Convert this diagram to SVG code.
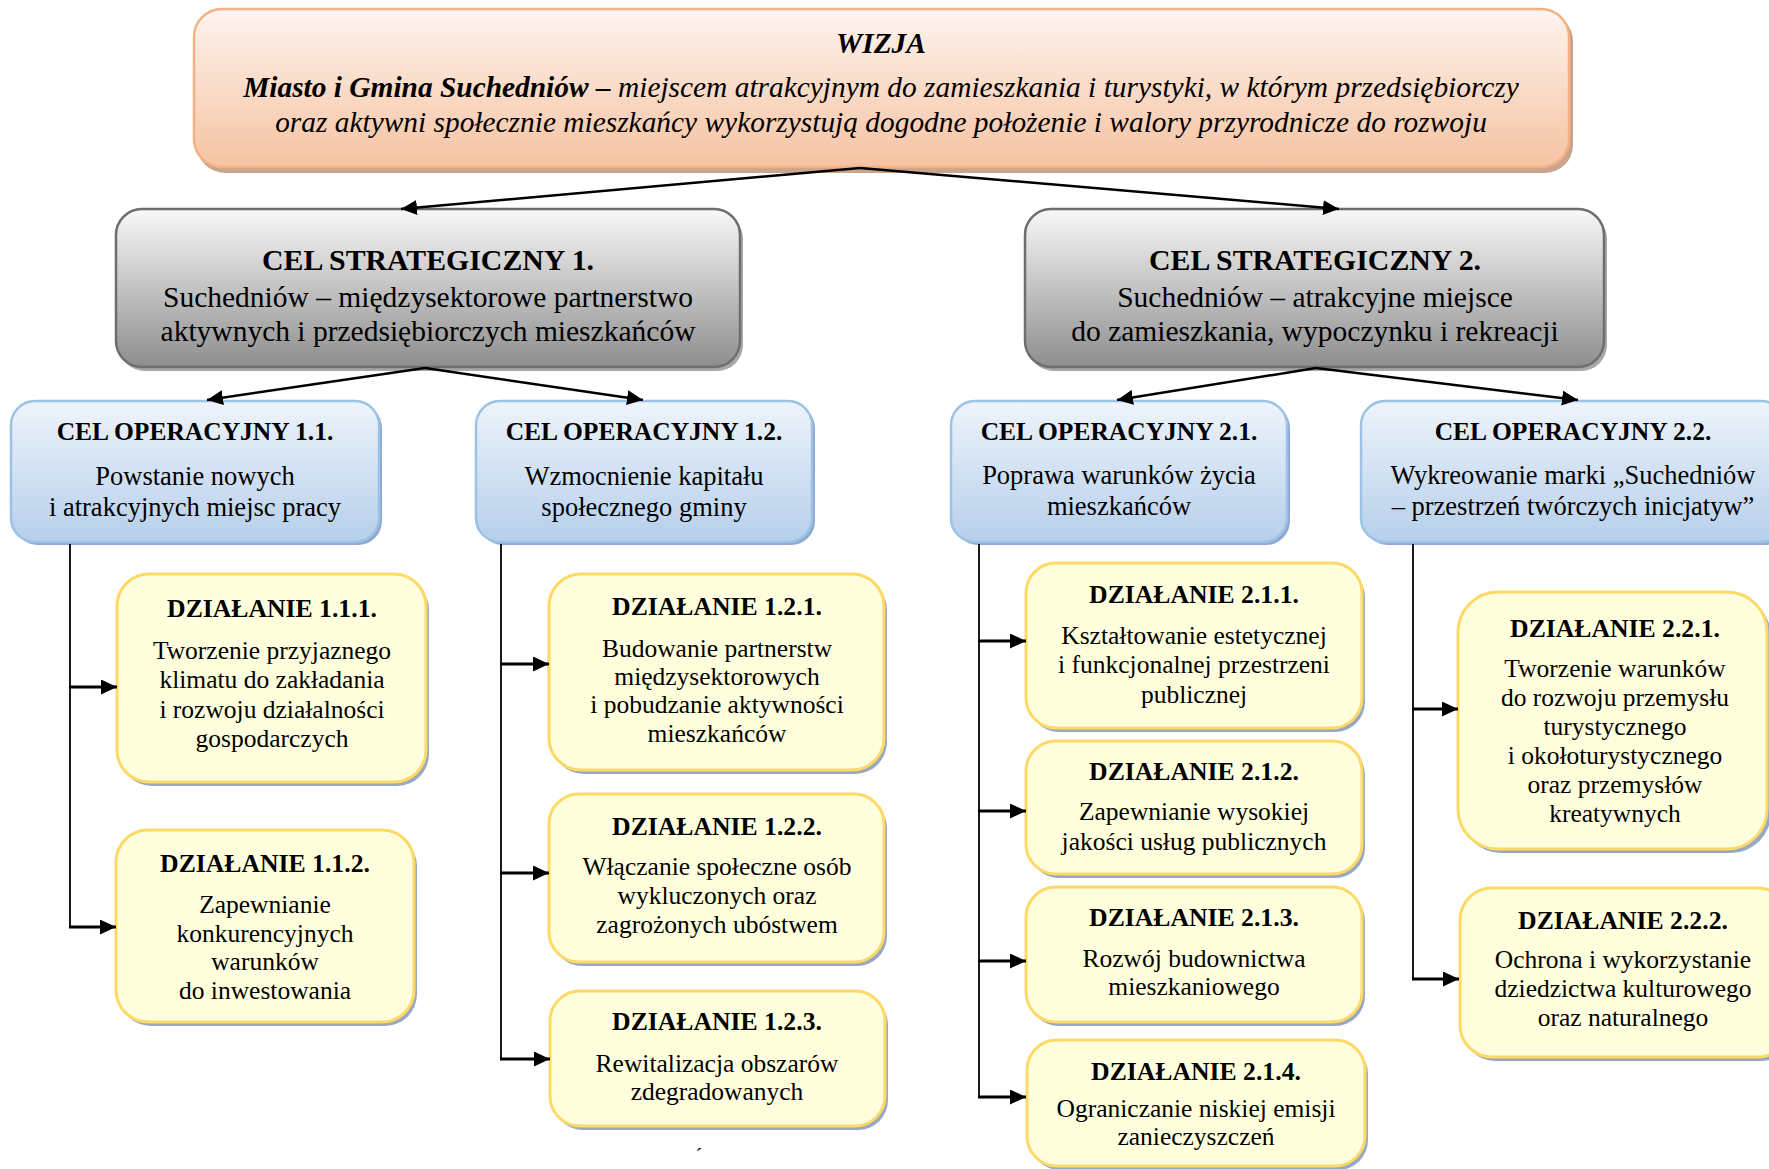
<svg xmlns="http://www.w3.org/2000/svg" width="1769" height="1169" viewBox="0 0 1769 1169">
<defs>
<linearGradient id="gV" x1="0" y1="0" x2="0" y2="1"><stop offset="0" stop-color="#fef4ef"/><stop offset="1" stop-color="#f6c3a2"/></linearGradient>
<linearGradient id="gS" x1="0" y1="0" x2="0" y2="1"><stop offset="0" stop-color="#f8f8f8"/><stop offset="1" stop-color="#8e8e8e"/></linearGradient>
<linearGradient id="gO" x1="0" y1="0" x2="0" y2="1"><stop offset="0" stop-color="#eef4fb"/><stop offset="1" stop-color="#b6cfeb"/></linearGradient>
<marker id="ar" markerUnits="userSpaceOnUse" markerWidth="17" markerHeight="15" refX="16" refY="7.5" orient="auto"><path d="M0,0 L16,7.5 L0,15 z" fill="#000"/></marker>
<style>
.t{font-family:"Liberation Serif","Times New Roman",serif;fill:#000;text-anchor:middle}
.vb{font-size:29.4px;font-weight:bold;font-style:italic}
.vi{font-size:29.4px;font-style:italic}
.st{font-size:29.8px;font-weight:bold}
.sb{font-size:29.5px}
.ot{font-size:25.5px;font-weight:bold}
.ob{font-size:26.5px}
.at{font-size:25.7px;font-weight:bold}
.ab{font-size:25.5px}
.vbox{fill:url(#gV);stroke:#f4b183;stroke-width:2.5}
.vsh{fill:#c8a58c}
.sbox{fill:url(#gS);stroke:#6e6e6e;stroke-width:2.5}
.ssh{fill:#a8a8a8}
.obox{fill:url(#gO);stroke:#9cc2e5;stroke-width:2.5}
.osh{fill:#8faad0}
.abox{fill:#ffffdd;stroke:#ffd966;stroke-width:3}
.ash{fill:#98a9c4}
.c{stroke:#000;stroke-width:2.5;fill:none}
.v{stroke:#000;stroke-width:1.8;fill:none}
.b{stroke:#000;stroke-width:3;fill:none;marker-end:url(#ar)}
</style>
</defs>

<g id="wizja">
<rect class="vsh" x="197" y="13" width="1376" height="160" rx="28"/>
<rect class="vbox" x="194" y="9" width="1375" height="158" rx="28"/>
<text class="t vb" x="881" y="53">WIZJA</text>
<text class="t" x="881" y="97"><tspan class="vb">Miasto i Gmina Suchedniów –</tspan><tspan class="vi"> miejscem atrakcyjnym do zamieszkania i turystyki, w którym przedsiębiorczy</tspan></text>
<text class="t vi" x="881" y="132">oraz aktywni społecznie mieszkańcy wykorzystują dogodne położenie i walory przyrodnicze do rozwoju</text>
</g>

<g id="cs1">
<rect class="ssh" x="119" y="213" width="624" height="158" rx="26"/>
<rect class="sbox" x="116" y="209" width="624" height="158" rx="26"/>
<text class="t st" x="428" y="270">CEL STRATEGICZNY 1.</text>
<text class="t sb" x="428" y="307">Suchedniów – międzysektorowe partnerstwo</text>
<text class="t sb" x="428" y="341">aktywnych i przedsiębiorczych mieszkańców</text>
</g>

<g id="cs2">
<rect class="ssh" x="1028" y="213" width="579" height="158" rx="26"/>
<rect class="sbox" x="1025" y="209" width="579" height="158" rx="26"/>
<text class="t st" x="1315" y="270">CEL STRATEGICZNY 2.</text>
<text class="t sb" x="1315" y="307">Suchedniów – atrakcyjne miejsce</text>
<text class="t sb" x="1315" y="341">do zamieszkania, wypoczynku i rekreacji</text>
</g>

<g id="co11">
<rect class="osh" x="14" y="404" width="368" height="141" rx="24"/>
<rect class="obox" x="11" y="401" width="368" height="141" rx="24"/>
<text class="t ot" x="195" y="440">CEL OPERACYJNY 1.1.</text>
<text class="t ob" x="195" y="485">Powstanie nowych</text>
<text class="t ob" x="195" y="516">i atrakcyjnych miejsc pracy</text>
</g>

<g id="co12">
<rect class="osh" x="479" y="404" width="336" height="141" rx="24"/>
<rect class="obox" x="476" y="401" width="336" height="141" rx="24"/>
<text class="t ot" x="644" y="440">CEL OPERACYJNY 1.2.</text>
<text class="t ob" x="644" y="485">Wzmocnienie kapitału</text>
<text class="t ob" x="644" y="516">społecznego gminy</text>
</g>

<g id="co21">
<rect class="osh" x="954" y="404" width="336" height="141" rx="24"/>
<rect class="obox" x="951" y="401" width="336" height="141" rx="24"/>
<text class="t ot" x="1119" y="440">CEL OPERACYJNY 2.1.</text>
<text class="t ob" x="1119" y="484">Poprawa warunków życia</text>
<text class="t ob" x="1119" y="515">mieszkańców</text>
</g>

<g id="co22">
<rect class="osh" x="1364" y="404" width="424" height="141" rx="24"/>
<rect class="obox" x="1361" y="401" width="424" height="141" rx="24"/>
<text class="t ot" x="1573" y="440">CEL OPERACYJNY 2.2.</text>
<text class="t ob" x="1573" y="484">Wykreowanie marki „Suchedniów</text>
<text class="t ob" x="1573" y="515">– przestrzeń twórczych inicjatyw”</text>
</g>

<g id="a111">
<rect class="ash" x="120" y="578" width="309" height="208" rx="32"/>
<rect class="abox" x="117" y="574" width="309" height="208" rx="32"/>
<text class="t at" x="272" y="617">DZIAŁANIE 1.1.1.</text>
<text class="t ab" x="272" y="659">Tworzenie przyjaznego</text>
<text class="t ab" x="272" y="688">klimatu do zakładania</text>
<text class="t ab" x="272" y="718">i rozwoju działalności</text>
<text class="t ab" x="272" y="747">gospodarczych</text>
</g>

<g id="a112">
<rect class="ash" x="119" y="834" width="298" height="192" rx="32"/>
<rect class="abox" x="116" y="830" width="298" height="192" rx="32"/>
<text class="t at" x="265" y="872">DZIAŁANIE 1.1.2.</text>
<text class="t ab" x="265" y="913">Zapewnianie</text>
<text class="t ab" x="265" y="942">konkurencyjnych</text>
<text class="t ab" x="265" y="970">warunków</text>
<text class="t ab" x="265" y="999">do inwestowania</text>
</g>

<g id="a121">
<rect class="ash" x="552" y="578" width="335" height="196" rx="32"/>
<rect class="abox" x="549" y="574" width="335" height="196" rx="32"/>
<text class="t at" x="717" y="615">DZIAŁANIE 1.2.1.</text>
<text class="t ab" x="717" y="657">Budowanie partnerstw</text>
<text class="t ab" x="717" y="685">międzysektorowych</text>
<text class="t ab" x="717" y="713">i pobudzanie aktywności</text>
<text class="t ab" x="717" y="742">mieszkańców</text>
</g>

<g id="a122">
<rect class="ash" x="552" y="798" width="335" height="168" rx="30"/>
<rect class="abox" x="549" y="794" width="335" height="168" rx="30"/>
<text class="t at" x="717" y="835">DZIAŁANIE 1.2.2.</text>
<text class="t ab" x="717" y="875">Włączanie społeczne osób</text>
<text class="t ab" x="717" y="904">wykluczonych oraz</text>
<text class="t ab" x="717" y="933">zagrożonych ubóstwem</text>
</g>

<g id="a123">
<rect class="ash" x="553" y="995" width="335" height="135" rx="30"/>
<rect class="abox" x="550" y="991" width="335" height="135" rx="30"/>
<text class="t at" x="717" y="1030">DZIAŁANIE 1.2.3.</text>
<text class="t ab" x="717" y="1072">Rewitalizacja obszarów</text>
<text class="t ab" x="717" y="1100">zdegradowanych</text>
</g>

<g id="a211">
<rect class="ash" x="1029" y="567" width="336" height="165" rx="30"/>
<rect class="abox" x="1026" y="563" width="336" height="165" rx="30"/>
<text class="t at" x="1194" y="603">DZIAŁANIE 2.1.1.</text>
<text class="t ab" x="1194" y="644">Kształtowanie estetycznej</text>
<text class="t ab" x="1194" y="673">i funkcjonalnej przestrzeni</text>
<text class="t ab" x="1194" y="703">publicznej</text>
</g>

<g id="a212">
<rect class="ash" x="1029" y="745" width="336" height="133" rx="30"/>
<rect class="abox" x="1026" y="741" width="336" height="133" rx="30"/>
<text class="t at" x="1194" y="780">DZIAŁANIE 2.1.2.</text>
<text class="t ab" x="1194" y="820">Zapewnianie wysokiej</text>
<text class="t ab" x="1194" y="850">jakości usług publicznych</text>
</g>

<g id="a213">
<rect class="ash" x="1029" y="891" width="336" height="135" rx="30"/>
<rect class="abox" x="1026" y="887" width="336" height="135" rx="30"/>
<text class="t at" x="1194" y="926">DZIAŁANIE 2.1.3.</text>
<text class="t ab" x="1194" y="967">Rozwój budownictwa</text>
<text class="t ab" x="1194" y="995">mieszkaniowego</text>
</g>

<g id="a214">
<rect class="ash" x="1030" y="1044" width="338" height="126" rx="30"/>
<rect class="abox" x="1027" y="1040" width="338" height="126" rx="30"/>
<text class="t at" x="1196" y="1080">DZIAŁANIE 2.1.4.</text>
<text class="t ab" x="1196" y="1117">Ograniczanie niskiej emisji</text>
<text class="t ab" x="1196" y="1145">zanieczyszczeń</text>
</g>

<g id="a221">
<rect class="ash" x="1461" y="596" width="310" height="257" rx="40"/>
<rect class="abox" x="1458" y="592" width="309" height="257" rx="40"/>
<text class="t at" x="1615" y="637">DZIAŁANIE 2.2.1.</text>
<text class="t ab" x="1615" y="677">Tworzenie warunków</text>
<text class="t ab" x="1615" y="706">do rozwoju przemysłu</text>
<text class="t ab" x="1615" y="735">turystycznego</text>
<text class="t ab" x="1615" y="764">i okołoturystycznego</text>
<text class="t ab" x="1615" y="793">oraz przemysłów</text>
<text class="t ab" x="1615" y="822">kreatywnych</text>
</g>

<g id="a222">
<rect class="ash" x="1463" y="892" width="330" height="169" rx="32"/>
<rect class="abox" x="1460" y="888" width="330" height="169" rx="32"/>
<text class="t at" x="1623" y="929">DZIAŁANIE 2.2.2.</text>
<text class="t ab" x="1623" y="968">Ochrona i wykorzystanie</text>
<text class="t ab" x="1623" y="997">dziedzictwa kulturowego</text>
<text class="t ab" x="1623" y="1026">oraz naturalnego</text>
</g>

<g id="connectors">
<path class="c" d="M860,168 L401,209" marker-end="url(#ar)"/>
<path class="c" d="M860,168 L1339,209" marker-end="url(#ar)"/>
<path class="c" d="M425,368 L207,400" marker-end="url(#ar)"/>
<path class="c" d="M425,368 L643,400" marker-end="url(#ar)"/>
<path class="c" d="M1316,368 L1117,400" marker-end="url(#ar)"/>
<path class="c" d="M1316,368 L1578,400" marker-end="url(#ar)"/>
<path class="v" d="M70,544 V927"/>
<path class="b" d="M69,687 H117"/>
<path class="b" d="M69,927 H116"/>
<path class="v" d="M501,544 V1059"/>
<path class="b" d="M500,664 H549"/>
<path class="b" d="M500,873 H549"/>
<path class="b" d="M500,1059 H550"/>
<path class="v" d="M979,544 V1097"/>
<path class="b" d="M978,641 H1026"/>
<path class="b" d="M978,811 H1026"/>
<path class="b" d="M978,961 H1026"/>
<path class="b" d="M978,1097 H1026"/>
<path class="v" d="M1413,544 V979"/>
<path class="b" d="M1412,709 H1458"/>
<path class="b" d="M1412,979 H1459"/>
</g>

<text class="t" style="font-size:22px" x="699" y="1163">´</text>
</svg>
